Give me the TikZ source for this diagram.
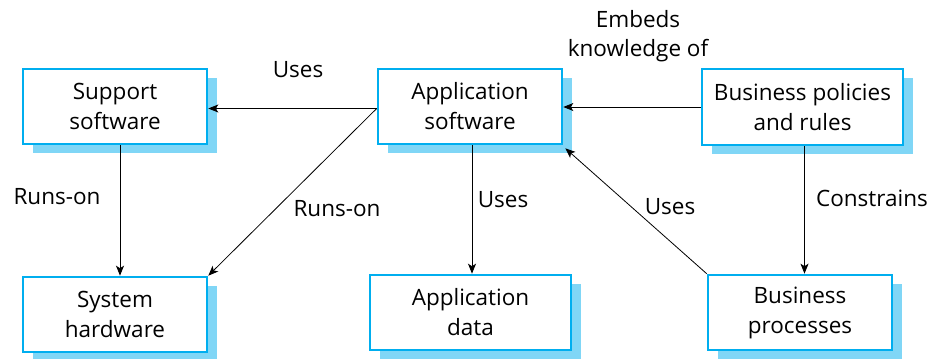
\documentclass[tikz,border=0pt]{standalone}
\usepackage{fontspec}
\setmainfont{Open Sans}
\usetikzlibrary{arrows.meta,shadows}
\definecolor{boxblue}{HTML}{00AEEF}
\definecolor{shadowblue}{HTML}{80D6F6}
\begin{document}
\begin{tikzpicture}[x=1pt,y=-1pt,
  box/.style={draw=boxblue,line width=2.6pt,fill=white,align=center,
    minimum width=184pt,minimum height=75pt,inner sep=0pt,
    font=\fontsize{22.5}{30}\selectfont,
    drop shadow={shadow xshift=10pt,shadow yshift=-9pt,fill=shadowblue,opacity=1}},
  wide/.style={minimum width=201pt},
  lbl/.style={align=center,inner sep=0pt,font=\fontsize{22.5}{29}\selectfont},
  arr/.style={-{Stealth[length=10pt,width=8pt,inset=2.5pt]},line width=0.8pt}]
\useasboundingbox (0,0) rectangle (927,359);
\node[box] (sup) at (115,106.5) {Support\\software};
\node[box] (app) at (470,106.5) {Application\\software};
\node[box,wide,minimum height=76pt] (bpr) at (802.5,107) {Business policies\\and rules};
\node[box] (hw) at (115,314.5) {System\\hardware};
\node[box,wide] (data) at (470.5,312.5) {Application\\data};
\node[box] (proc) at (800,312.5) {Business\\processes};

\draw[arr] ([yshift=-2pt]app.west) -- ([yshift=-2pt]sup.east);
\draw[arr] ([yshift=-2pt]app.west) -- (hw.north east);
\draw[arr] ([xshift=5pt]sup.south) -- ([xshift=5pt]hw.north);
\draw[arr] ([xshift=2pt]app.south) -- ([xshift=1.5pt]data.north);
\draw[arr] (bpr.west) -- (bpr.west -| app.east);
\draw[arr] ([xshift=2pt]bpr.south) -- ([xshift=4.5pt]proc.north);
\draw[arr] (proc.north west) -- ([shift={(2pt,-3pt)}]app.south east);

\node[lbl] (l1) at (298,70) {Uses};
\node[lbl] (l2) at (57,197) {Runs-on};
\node[lbl] (l3) at (337,209) {Runs-on};
\node[lbl] (l4) at (503,200) {Uses};
\node[lbl] (l5) at (670,207) {Uses};
\node[lbl] (l6) at (872,198) {Constrains};
\node[lbl] (l7) at (638,36) {Embeds\\knowledge of};
\end{tikzpicture}
\end{document}
